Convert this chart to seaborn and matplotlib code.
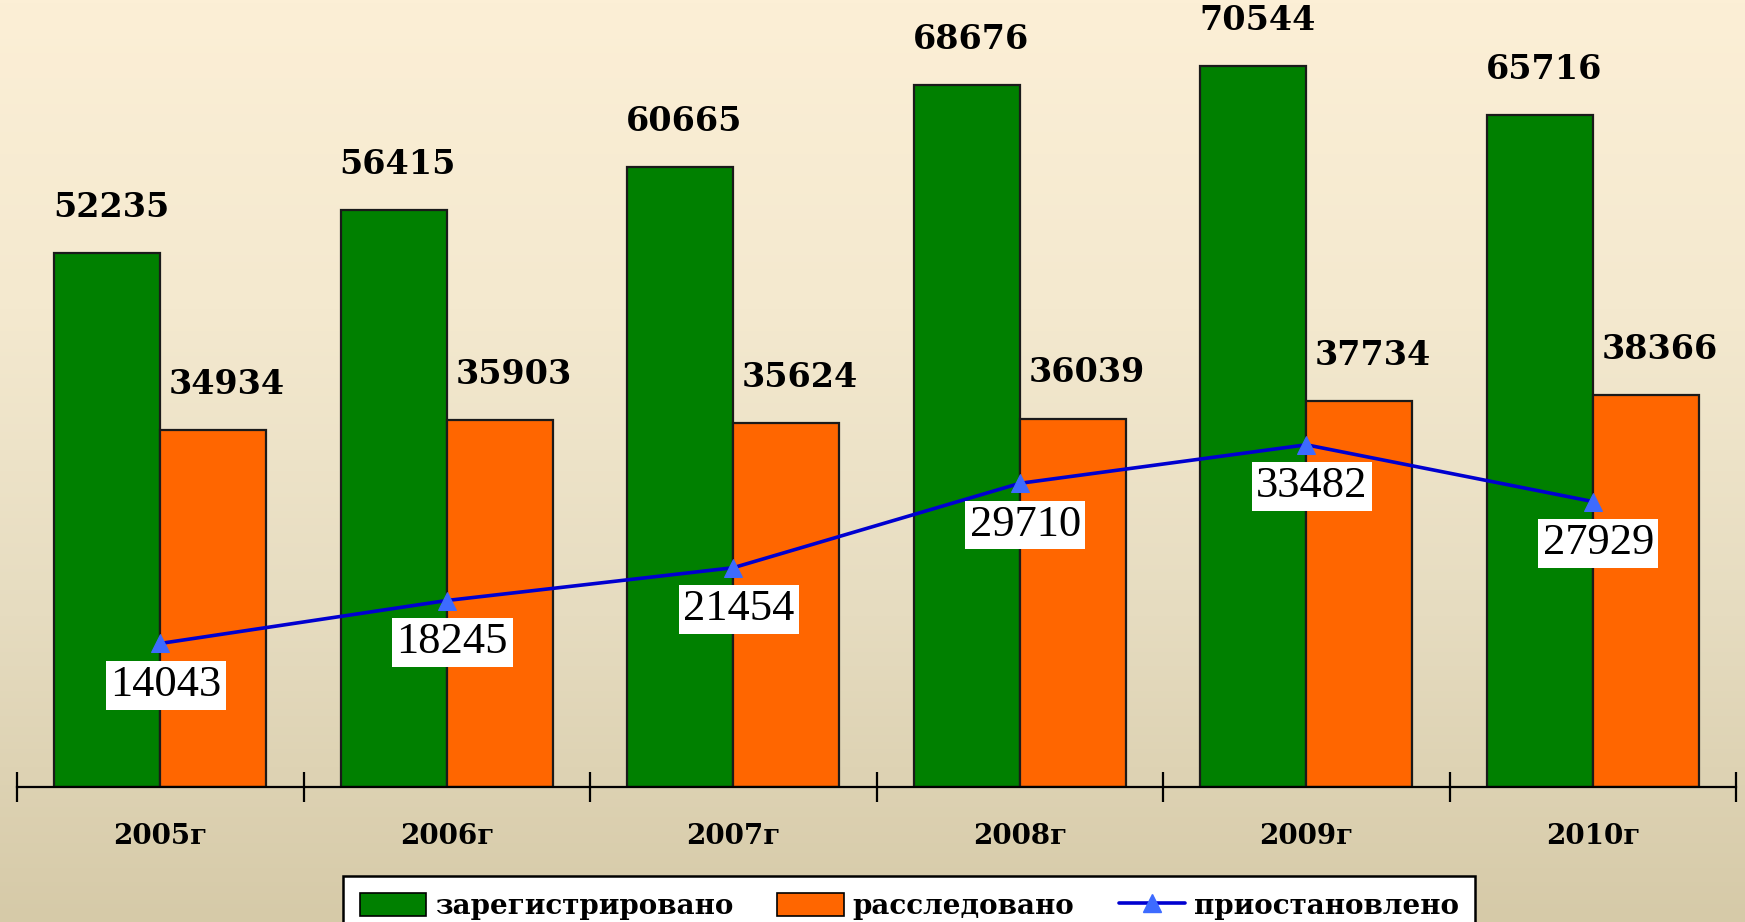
import numpy as np
import pandas as pd
import matplotlib
matplotlib.use("Agg")
import matplotlib.pyplot as plt
from matplotlib.patches import Patch
from matplotlib.lines import Line2D
from matplotlib.colors import LinearSegmentedColormap
import seaborn as sns

# chart data
years = ["2005г", "2006г", "2007г", "2008г", "2009г", "2010г"]
registered = [52235, 56415, 60665, 68676, 70544, 65716]
investigated = [34934, 35903, 35624, 36039, 37734, 38366]
suspended = [14043, 18245, 21454, 29710, 33482, 27929]
series_names = ["зарегистрировано", "расследовано", "приостановлено"]

GREEN = "#008000"
ORANGE = "#FF6600"
BLUE = "#0000D0"
MARKER_BLUE = "#3D6BFF"

sns.set_theme(style="white")
plt.rcParams["font.family"] = ["DejaVu Serif", "DejaVu Sans"]
plt.rcParams["text.color"] = "black"
plt.rcParams["xtick.color"] = "black"

bars = pd.DataFrame({
    "year": years * 2,
    "value": registered + investigated,
    "series": [series_names[0]] * len(years) + [series_names[1]] * len(years),
})

W, H = 1745, 922
fig = plt.figure(figsize=(W / 100, H / 100), dpi=100)

# beige gradient background
bg = fig.add_axes([0, 0, 1, 1], zorder=-10)
cmap = LinearSegmentedColormap.from_list("bg", ["#FCEFD6", "#F4E9CF", "#E6DCC0", "#D6CAA8"])
bg.imshow(np.linspace(0, 1, 256).reshape(-1, 1), aspect="auto", cmap=cmap,
          extent=[0, 1, 0, 1], origin="upper")
bg.axis("off")

ax = fig.add_axes([17 / W, 1 - 787 / H, (1736 - 17) / W, 787 / H])
ax.set_facecolor("none")

sns.barplot(data=bars, x="year", y="value", hue="series", palette=[GREEN, ORANGE],
            width=0.74, edgecolor="#1a1a1a", linewidth=1.6, saturation=1,
            legend=False, ax=ax)

sns.lineplot(x=np.arange(len(years)), y=suspended, color=BLUE, linewidth=2.6,
             marker="^", markersize=13, markerfacecolor=MARKER_BLUE,
             markeredgecolor=MARKER_BLUE, ax=ax, zorder=5)

# value labels above the bars
for container, vals, dx in zip(ax.containers, [registered, investigated], [3, 10]):
    for patch, v in zip(container, vals):
        ax.annotate(f"{v}", (patch.get_x() + patch.get_width() / 2, patch.get_height()),
                    xytext=(dx, 33), textcoords="offset points", ha="center", va="center",
                    fontsize=24, fontweight="bold", color="black", family=["DejaVu Serif"])

# boxed labels for the line
for i, v in enumerate(suspended):
    ax.annotate(f"{v}", (i, v), xytext=(4, -30), textcoords="offset points",
                ha="center", va="center", fontsize=32, color="black",
                family=["Liberation Serif"],
                bbox=dict(boxstyle="square,pad=0.1", fc="white", ec="none"), zorder=6)

ax.set_xlim(-0.5, len(years) - 0.5)
ax.set_ylim(0, 77000)
ax.set_yticks([])
ax.set_xlabel("")
ax.set_ylabel("")
for side in ["left", "right", "top"]:
    ax.spines[side].set_visible(False)
ax.spines["bottom"].set_color("black")
ax.spines["bottom"].set_linewidth(1.6)

ax.set_xticks(np.arange(len(years) + 1) - 0.5, minor=True)
ax.tick_params(axis="x", which="minor", bottom=True, direction="inout", length=22,
               width=1.6, color="black")
ax.tick_params(axis="x", which="major", length=0, pad=26, labelsize=20, labelcolor="black")
for lbl in ax.get_xticklabels():
    lbl.set_fontweight("bold")

handles = [
    Patch(facecolor=GREEN, edgecolor="black", linewidth=1.2),
    Patch(facecolor=ORANGE, edgecolor="black", linewidth=1.2),
    Line2D([], [], color=BLUE, linewidth=2.6, marker="^", markersize=13,
           markerfacecolor=MARKER_BLUE, markeredgecolor=MARKER_BLUE),
]
leg = fig.legend(handles, series_names, loc="upper left",
                 bbox_to_anchor=(343 / W, 1 - 876 / H), borderaxespad=0, ncol=3,
                 frameon=True, fancybox=False, edgecolor="black", facecolor="white",
                 framealpha=1, prop={"family": "DejaVu Serif", "weight": "bold", "size": 20},
                 handlelength=2.4, handleheight=0.9, handletextpad=0.3,
                 columnspacing=1.6, borderpad=0.6)
leg.get_frame().set_linewidth(1.8)

fig.savefig("out.png", dpi=100)
